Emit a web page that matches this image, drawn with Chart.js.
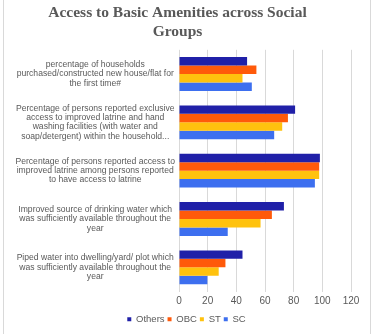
<!DOCTYPE html>
<html>
<head>
<meta charset="utf-8">
<script src="https://cdn.jsdelivr.net/npm/chart.js@4"></script>
<style>
  body { margin: 0; background: #fff; }
  #frame { position: absolute; left: 3px; top: 0; width: 366px; height: 334px;
           border-left: 1px solid #d9d9d9; border-right: 1px solid #d9d9d9; }
  #wrap { position: absolute; left: 0; top: 0; width: 382px; height: 334px; }
</style>
</head>
<body>
<div id="frame"></div>
<div id="wrap"><canvas id="chart"></canvas></div>
<script>
// categories, top to bottom
const categories = [
  ["percentage of households", "purchased/constructed new house/flat for", "the first time#"],
  ["Percentage of persons reported exclusive", "access to improved latrine and hand", "washing facilities (with water and", "soap/detergent) within the household..."],
  ["Percentage of persons reported access to", "improved latrine among persons reported", "to have access to latrine"],
  ["Improved source of drinking water which", "was sufficiently available throughout the", "year"],
  ["Piped water into dwelling/yard/ plot which", "was sufficiently available throughout the", "year"]
];

const others = [47.5, 81, 98.3, 73.2, 44.3];
const obc = [54, 76, 97.8, 64.8, 32.4];
const st = [44.3, 72, 97.8, 56.9, 27.7];
const sc = [50.8, 66.4, 94.8, 34, 19.8];

const groupNames = ["Others", "OBC", "ST", "SC"];
const groupColors = ["#2020a8", "#ff5a0a", "#ffc20e", "#3d6fef"];

const textGray = "#595959";

// legend sits centred on the whole frame, not only on the plot
const shiftLegend = {
  id: "shiftLegend",
  afterLayout(chart) {
    chart.legend.left += 9;
    chart.legend.right += 9;
  },
};

const ctx = document.getElementById("chart");

new Chart(ctx, {
  type: "bar",
  data: {
    labels: categories,
    datasets: [others, obc, st, sc].map((vals, i) => ({
      label: groupNames[i],
      data: vals,
      backgroundColor: groupColors[i],
      borderWidth: 0,
      barPercentage: 1.0,
      categoryPercentage: 0.7,
    })),
  },
  plugins: [shiftLegend],
  options: {
    indexAxis: "y",
    responsive: true,
    maintainAspectRatio: false,
    animation: false,
    layout: { padding: { left: 4, right: 31, top: 4, bottom: 0 } },
    plugins: {
      title: {
        display: true,
        text: ["Access to Basic Amenities across Social", "Groups"],
        color: textGray,
        font: { family: "'Liberation Serif', serif", size: 15.5, weight: "bold", lineHeight: 1.22 },
        padding: { top: 0, bottom: 8 },
      },
      legend: {
        position: "bottom",
        labels: {
          color: textGray,
          font: { family: "'Liberation Sans', Arial, sans-serif", size: 9.5 },
          boxWidth: 4,
          boxHeight: 4,
          padding: 3,
        },
      },
      tooltip: { enabled: false },
    },
    scales: {
      x: {
        min: 0,
        max: 120,
        ticks: {
          stepSize: 20,
          color: textGray,
          font: { family: "'Liberation Sans', Arial, sans-serif", size: 10 },
          padding: 4,
        },
        grid: { color: "#d9d9d9", drawTicks: false },
        border: { display: false },
      },
      y: {
        ticks: {
          color: textGray,
          crossAlign: "center",
          font: { family: "'Liberation Sans', Arial, sans-serif", size: 8.6, lineHeight: 1.08 },
          padding: 4,
        },
        grid: { display: false, drawTicks: false },
        border: { display: false },
        afterFit: (scale) => { scale.width = 175; },
      },
    },
  },
});
</script>
</body>
</html>
